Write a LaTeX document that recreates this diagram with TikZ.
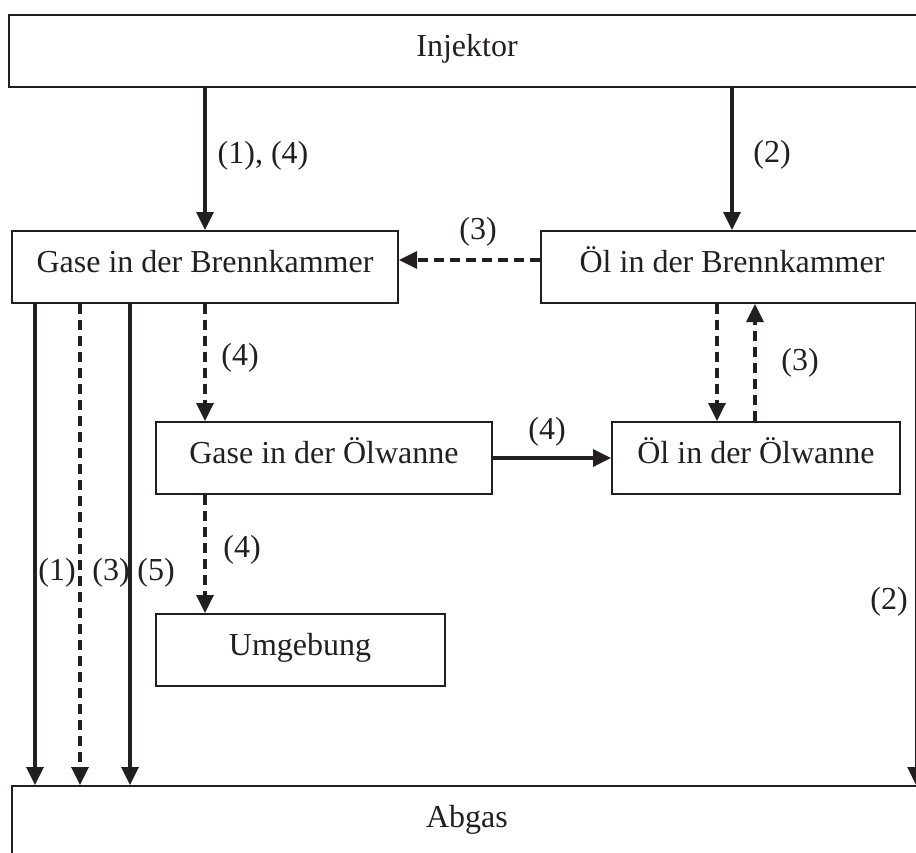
\documentclass[tikz,border=0pt]{standalone}
\usepackage{fontspec}
\setmainfont{Liberation Serif}
\usetikzlibrary{positioning,arrows.meta,calc}
\definecolor{ink}{HTML}{231F20}

\begin{document}
\begin{tikzpicture}[x=1pt, y=-1pt, color=ink,
			font=\fontsize{32}{38}\selectfont,
			>={Triangle[length=18pt,width=17pt]},
			box/.style={draw, line width=2pt, inner sep=0pt, minimum height=72pt, text height=20pt, text depth=10pt},
			lbl/.style={inner sep=0pt},
			flow/.style={line width=3.4pt, ->},
			flowdash/.style={line width=3.4pt, ->, dash pattern=on 10pt off 6pt},
			thinflow/.style={line width=2pt, ->}]
			\useasboundingbox (0,0) rectangle (916,852);
			\clip (0,0) rectangle (916,852);
			
			\node[box, minimum width=916pt] (inj) at (467, 51) {Injektor};
			\node[box, minimum width=386pt] (gbk) at (205, 267) {Gase in der Brennkammer};
			\node[box, minimum width=382pt] (obk) at (732, 267) {Öl in der Brennkammer};
			\node[box, minimum width=336pt] (gow) at (324, 458) {Gase in der Ölwanne};
			\node[box, minimum width=288pt] (oow) at (756, 458) {Öl in der Ölwanne};
			\node[box, minimum width=289pt] (umg) at (300, 650) {Umgebung};
			\node[box, minimum width=910pt] (abg) at (467, 822) {Abgas};
			
			\draw[flow] (inj.south -| gbk.north) -- (gbk.north);
			\draw[flow] (inj.south -| obk.north) -- (obk.north);
			\draw[flowdash] ([yshift=7]obk.west) -- ([yshift=7]gbk.east);
			\draw[flowdash] (gbk.south) -- (gbk.south |- gow.north);
			\draw[flowdash] (gbk.south |- gow.south) -- (gbk.south |- umg.north);
			\draw[flow] (gow.east) -- (oow.west);
			\draw[flowdash] ([xshift=-15]obk.south) -- ([xshift=-15]obk.south |- oow.north);
			\draw[flowdash] ([xshift=23]obk.south |- oow.north) -- ([xshift=23]obk.south);
			\draw[flow] ([xshift=24]gbk.south west) -- ([xshift=24]gbk.south west |- abg.north);
			\draw[flowdash] ([xshift=69]gbk.south west) -- ([xshift=69]gbk.south west |- abg.north);
			\draw[flow] ([xshift=119]gbk.south west) -- ([xshift=119]gbk.south west |- abg.north);
			\draw[thinflow] ([xshift=-8]obk.south east) -- ([xshift=-8]obk.south east |- abg.north);
			
			\node[lbl] (l14) at (263, 156) {(1), (4)};
			\node[lbl] (l2a) at (772, 155) {(2)};
			\node[lbl] (l3a) at (478, 232) {(3)};
			\node[lbl] (l4a) at (240, 358) {(4)};
			\node[lbl] (l4b) at (547, 432) {(4)};
			\node[lbl] (l3b) at (800, 363) {(3)};
			\node[lbl] (l4c) at (242, 550) {(4)};
			\node[lbl] (l1) at (57, 573) {(1)};
			\node[lbl] (l3c) at (111, 573) {(3)};
			\node[lbl] (l5) at (156, 573) {(5)};
			\node[lbl] (l2b) at (889, 602) {(2)};
			
			\end{tikzpicture}
\end{document}
